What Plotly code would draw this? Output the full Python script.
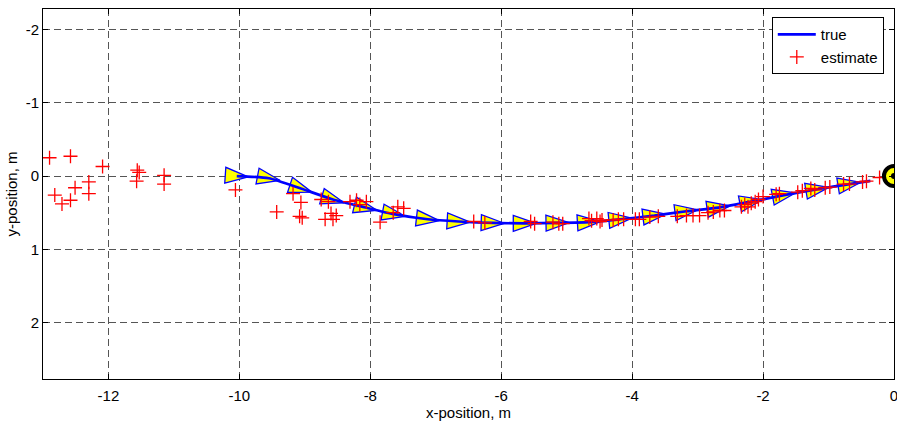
import numpy as np
import plotly.graph_objects as go

# ---------------- data ----------------
# true trajectory (m); robot poses drawn as triangles at all but the last point
true_x = [-10.04, -9.55, -9.06, -8.57, -8.07, -7.64, -7.12, -6.65, -6.13, -5.64,
          -5.14, -4.66, -4.18, -3.66, -3.17, -2.68, -2.18, -1.68, -1.17, -0.68, -0.36]
true_y = [0.00, 0.03, 0.17, 0.32, 0.43, 0.52, 0.59, 0.62, 0.64, 0.645,
          0.64, 0.63, 0.59, 0.54, 0.48, 0.43, 0.35, 0.26, 0.18, 0.11, 0.065]
n_poses = 20

# estimated positions (m)
est_x = [-12.90, -12.58, -12.09, -12.82, -12.71, -12.58, -12.51, -12.30, -12.30, -11.56,
         -11.53, -11.57, -11.15, -11.15, -10.06, -9.43, -9.18, -9.06, -9.08, -9.04,
         -8.75, -8.64, -8.69, -8.60, -8.57, -8.52, -8.31, -8.21, -8.16, -8.06,
         -7.85, -7.65, -7.58, -7.49, -6.42, -6.25, -5.55, -5.49, -5.21, -5.12,
         -5.06, -4.66, -4.62, -4.54, -4.49, -4.46, -4.29, -4.21, -4.13, -3.95,
         -3.89, -3.73, -3.60, -3.31, -3.17, -3.07, -2.97, -2.84, -2.76, -2.66,
         -2.59, -2.33, -2.28, -2.23, -2.18, -2.12, -2.07, -2.00, -1.80, -1.75,
         -1.47, -1.40, -1.27, -1.21, -1.05, -0.98, -0.77, -0.68, -0.48, -0.42,
         -0.22]
est_y = [-0.25, -0.27, -0.13, 0.26, 0.38, 0.33, 0.16, 0.08, 0.24, -0.08,
         -0.05, 0.07, -0.01, 0.11, 0.19, 0.49, 0.24, 0.36, 0.55, 0.57,
         0.32, 0.35, 0.59, 0.51, 0.59, 0.54, 0.35, 0.33, 0.39, 0.35,
         0.63, 0.50, 0.42, 0.44, 0.62, 0.64, 0.62, 0.65, 0.63, 0.65,
         0.65, 0.58, 0.61, 0.58, 0.62, 0.60, 0.60, 0.59, 0.59, 0.59,
         0.59, 0.56, 0.55, 0.55, 0.54, 0.54, 0.54, 0.50, 0.49, 0.47,
         0.47, 0.42, 0.39, 0.42, 0.37, 0.35, 0.32, 0.28, 0.25, 0.24,
         0.22, 0.20, 0.17, 0.19, 0.16, 0.15, 0.11, 0.11, 0.08, 0.07,
         0.02]

# target position (m)
target_x = [0.0]
target_y = [0.0]

x_ticks = [-12, -10, -8, -6, -4, -2, 0]
x_tick_labels = ["-12", "-10", "-8", "-6", "-4", "-2", "0"]
y_ticks = [-2, -1, 0, 1, 2]
y_tick_labels = ["-2", "-1", "0", "1", "2"]

# ---------------- layout geometry ----------------
W, H = 897, 430
ML, MR, MT, MB = 43, 3, 9, 51
x_range = [-13, 0.0005]
y_range = [2.77, -2.28]   # reversed
sx = (W - ML - MR) / (x_range[1] - x_range[0])
sy = (H - MT - MB) / abs(y_range[0] - y_range[1])

# triangle polygons (size in pixels, converted through the axis scales)
TL, TH = 23.0, 16.0
tri_x, tri_y = [], []
for i in range(n_poses):
    j0 = max(i - 1, 0)
    j1 = min(i + 1, len(true_x) - 1)
    du = (true_x[j1] - true_x[j0]) * sx
    dv = (true_y[j1] - true_y[j0]) * sy
    phi = np.arctan2(dv, du)
    c, s = np.cos(phi), np.sin(phi)
    local = [(TL / 2, 0), (-TL / 2, -TH / 2), (-TL / 2, TH / 2), (TL / 2, 0)]
    for lx, ly in local:
        u = lx * c - ly * s
        v = lx * s + ly * c
        tri_x.append(true_x[i] + u / sx)
        tri_y.append(true_y[i] + v / sy)
    tri_x.append(None)
    tri_y.append(None)

FONT = "Liberation Sans, Arial, sans-serif"

fig = go.Figure()
fig.add_trace(go.Scatter(
    x=tri_x, y=tri_y, mode="lines", fill="toself",
    fillcolor="#FFFF00", line=dict(color="#0000FF", width=1.3),
    showlegend=False, hoverinfo="skip"))
fig.add_trace(go.Scatter(
    x=true_x, y=true_y, mode="lines", name="true",
    line=dict(color="#0000FF", width=2.7, shape="spline", smoothing=0.6)))
fig.add_trace(go.Scatter(
    x=est_x, y=est_y, mode="markers", name="estimate",
    marker=dict(symbol="cross-thin", size=10, line=dict(color="#FF0000", width=1.3),
                color="#FF0000")))
fig.add_trace(go.Scatter(
    x=target_x, y=target_y, mode="markers", showlegend=False, hoverinfo="skip",
    marker=dict(symbol="circle", size=20, color="#FFFF00",
                line=dict(color="#000000", width=4))))
fig.add_trace(go.Scatter(
    x=target_x, y=target_y, mode="markers", showlegend=False, hoverinfo="skip",
    marker=dict(symbol="circle", size=6, color="#000000")))

axis_common = dict(
    showline=True, linecolor="black", linewidth=1, mirror="allticks",
    ticks="inside", ticklen=5, tickcolor="black",
    showgrid=True, gridcolor="#555555", gridwidth=1, griddash="7px,4px",
    zeroline=False, automargin=False, ticklabeloverflow="allow",
    tickfont=dict(family=FONT, size=15, color="black"),
)

fig.update_layout(
    width=W, height=H,
    margin=dict(l=ML, r=MR, t=MT, b=MB),
    paper_bgcolor="white", plot_bgcolor="white",
    font=dict(family=FONT, size=15, color="black"),
    xaxis=dict(range=x_range, tickvals=x_ticks, ticktext=x_tick_labels, **axis_common,
               ticklabelstandoff=3,
               title=dict(text="x-position, m", font=dict(family=FONT, size=15), standoff=4)),
    yaxis=dict(range=y_range, tickvals=y_ticks, ticktext=y_tick_labels, **axis_common,
               title=dict(text="y-position, m", font=dict(family=FONT, size=15), standoff=4)),
    legend=dict(x=0.988, y=0.978, xanchor="right", yanchor="top", itemwidth=38,
                bgcolor="white", bordercolor="black", borderwidth=1,
                font=dict(family=FONT, size=15), tracegroupgap=0),
    showlegend=True,
)

fig.write_html("out.html", config={"displayModeBar": False},
               post_script="document.body.style.margin='0';document.body.style.overflow='hidden';")
